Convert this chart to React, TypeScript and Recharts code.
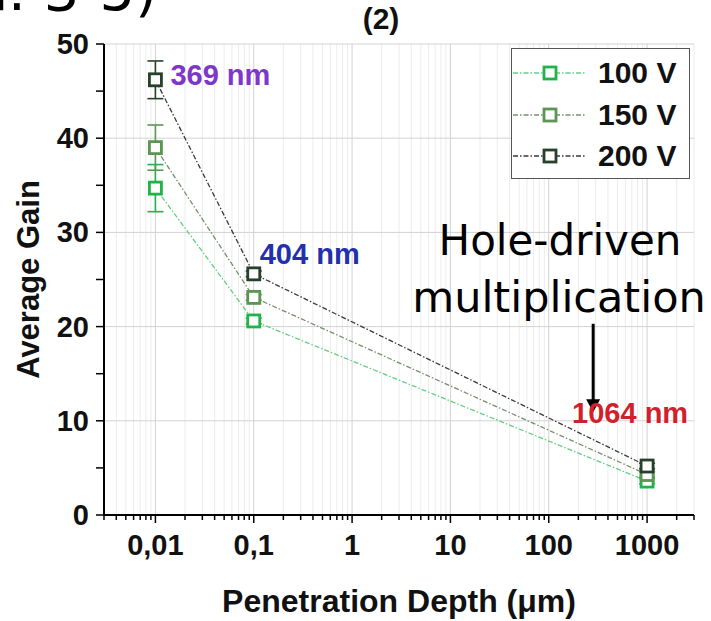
import {
  LineChart,
  Line,
  XAxis,
  YAxis,
  CartesianGrid,
  ErrorBar,
  Legend,
  ReferenceDot,
  ReferenceLine,
} from 'recharts'

// penetration depth (µm) for 369 / 404 / 1064 nm
const DEPTHS = [0.01, 0.1, 1000]

const GAIN_100V = [34.7, 20.6, 3.6]
const ERR_100V = [2.5, 0.3, 0.3]
const GAIN_150V = [39.0, 23.1, 4.3]
const ERR_150V = [2.4, 0.3, 0.3]
const GAIN_200V = [46.2, 25.6, 5.2]
const ERR_200V = [2.0, 0.3, 0.3]

const SERIES_NAMES = ['100 V', '150 V', '200 V']
const X_TICKS = [0.01, 0.1, 1, 10, 100, 1000]
const X_TICK_LABELS = ['0,01', '0,1', '1', '10', '100', '1000']
const Y_TICKS = [0, 5, 10, 15, 20, 25, 30, 35, 40, 45, 50]
const Y_GRID = [0, 10, 20, 30, 40, 50]
const X_DOMAIN = [0.003, 3000]

// wavelength labels, anchored on the 200 V points
const WAVELENGTHS = ['369 nm', '404 nm', '1064 nm']

// minor log ticks (2..9 per decade) inside the domain
const X_MINOR = [0.001, 0.01, 0.1, 1, 10, 100, 1000]
  .flatMap((d) => [2, 3, 4, 5, 6, 7, 8, 9].map((m) => Number((d * m).toPrecision(3))))
  .filter((v) => v >= X_DOMAIN[0] && v <= X_DOMAIN[1])

const rows = (gain: number[], err: number[]) =>
  DEPTHS.map((x, i) => ({ x, y: gain[i], e: err[i] }))

const SERIES = [
  { name: SERIES_NAMES[0], data: rows(GAIN_100V, ERR_100V), line: '#63cf82', mark: '#1fb34a' },
  { name: SERIES_NAMES[1], data: rows(GAIN_150V, ERR_150V), line: '#74906b', mark: '#5b9453' },
  { name: SERIES_NAMES[2], data: rows(GAIN_200V, ERR_200V), line: '#3a3a3a', mark: '#27402a' },
]

const LABEL_STYLE = [
  { color: '#7d38c9', dx: 15, dy: 5 },
  { color: '#2230ad', dx: 6, dy: -10 },
  { color: '#d21f2e', dx: -75, dy: -43 },
]

const ARROW = { x: 283, from: 20.3, to: 10.9 }

const BOLD = '"Liberation Sans", Arial, sans-serif'
const DEJAVU = '"DejaVu Sans", sans-serif'

const squareDot = (color: string) => (p: any) => (
  <rect
    key={`d-${p.index}`}
    x={p.cx - 6}
    y={p.cy - 6}
    width={12}
    height={12}
    fill="#fff"
    stroke={color}
    strokeWidth={2.8}
  />
)

const XTick = (p: any) => {
  const v = p.payload.value
  const i = X_TICKS.indexOf(v)
  const major = i >= 0
  return (
    <g>
      <line x1={p.x} x2={p.x} y1={p.y} y2={p.y + (major ? 8 : 5)} stroke="#000" strokeWidth={1.5} />
      {major && (
        <text x={p.x} y={p.y + 40} textAnchor="middle" fontFamily={BOLD} fontWeight={700} fontSize={29} fill="#111">
          {X_TICK_LABELS[i]}
        </text>
      )}
    </g>
  )
}

const YTick = (p: any) => {
  const v = p.payload.value
  return (
    <g>
      <line x1={p.x - 8} x2={p.x} y1={p.y} y2={p.y} stroke="#000" strokeWidth={1.5} />
      {v % 10 === 0 && (
        <text x={p.x - 15} y={p.y + 10} textAnchor="end" fontFamily={BOLD} fontWeight={700} fontSize={29} fill="#111">
          {v}
        </text>
      )}
    </g>
  )
}

const LegendBox = () => (
  <div style={s.legend}>
    {SERIES.map((sr, i) => (
      <div key={sr.name} style={{ ...s.legendRow, top: 9 + i * 41.5 }}>
        <svg width={86} height={30} style={{ display: 'block' }}>
          <line x1={1} x2={74} y1={15} y2={15} stroke={sr.line} strokeWidth={1.3} strokeDasharray="5 2 1.5 2" />
          <rect x={32} y={9} width={12} height={12} fill="#fff" stroke={sr.mark} strokeWidth={2.8} />
        </svg>
        <span style={s.legendText}>{sr.name}</span>
      </div>
    ))}
  </div>
)

export default function App() {
  const top = SERIES[2].data
  return (
    <div style={s.wrap}>
      <LineChart width={711} height={621} margin={{ top: 44, right: 17, bottom: 0, left: 0 }}>
        <CartesianGrid horizontal={false} verticalValues={X_MINOR} stroke="#ececec" strokeWidth={1} />
        <CartesianGrid verticalValues={X_TICKS} horizontalValues={Y_GRID} stroke="#d2d2d2" strokeWidth={1} />
        <XAxis
          dataKey="x"
          type="number"
          scale="log"
          domain={X_DOMAIN}
          ticks={[...X_TICKS, ...X_MINOR]}
          interval={0}
          allowDataOverflow
          height={106}
          tickSize={0}
          tickMargin={0}
          tickLine={false}
          tick={<XTick />}
          axisLine={{ stroke: '#000', strokeWidth: 2 }}
          label={{
            content: (lp: any) => (
              <text
                x={lp.viewBox.x + lp.viewBox.width / 2}
                y={lp.viewBox.y + 97}
                textAnchor="middle"
                fontFamily={BOLD}
                fontWeight={700}
                fontSize={32}
                fill="#111"
              >
                Penetration Depth (μm)
              </text>
            ),
          }}
        />
        <YAxis
          type="number"
          domain={[0, 50]}
          ticks={Y_TICKS}
          interval={0}
          width={104}
          tickSize={0}
          tickMargin={0}
          tickLine={false}
          tick={<YTick />}
          axisLine={{ stroke: '#000', strokeWidth: 2 }}
          label={{
            content: (lp: any) => {
              const cy = lp.viewBox.y + lp.viewBox.height / 2
              return (
                <text
                  x={39}
                  y={cy}
                  transform={`rotate(-90 39 ${cy})`}
                  textAnchor="middle"
                  fontFamily={BOLD}
                  fontWeight={700}
                  fontSize={31}
                  fill="#111"
                >
                  Average Gain
                </text>
              )
            },
          }}
        />
        {SERIES.map((sr) => (
          <Line
            key={sr.name}
            name={sr.name}
            data={sr.data}
            dataKey="y"
            type="linear"
            stroke={sr.line}
            strokeWidth={1.3}
            strokeDasharray="5 2 1.5 2"
            dot={squareDot(sr.mark)}
            activeDot={false}
            isAnimationActive={false}
          >
            <ErrorBar dataKey="e" width={8} strokeWidth={1.6} stroke={sr.mark} direction="y" />
          </Line>
        ))}
        {WAVELENGTHS.map((w, i) => (
          <ReferenceDot
            key={w}
            x={top[i].x}
            y={top[i].y}
            r={0}
            ifOverflow="visible"
            shape={(p: any) => (
              <text
                x={p.cx + LABEL_STYLE[i].dx}
                y={p.cy + LABEL_STYLE[i].dy}
                fontFamily={BOLD}
                fontWeight={700}
                fontSize={29}
                fill={LABEL_STYLE[i].color}
              >
                {w}
              </text>
            )}
          />
        ))}
        <ReferenceLine
          segment={[
            { x: ARROW.x, y: ARROW.from },
            { x: ARROW.x, y: ARROW.to },
          ]}
          ifOverflow="visible"
          shape={(p: any) => (
            <g>
              <line x1={p.x1} x2={p.x2} y1={p.y1} y2={p.y2 - 10} stroke="#000" strokeWidth={3} />
              <polygon points={`${p.x2 - 7},${p.y2 - 13} ${p.x2 + 7},${p.y2 - 13} ${p.x2},${p.y2}`} fill="#000" />
            </g>
          )}
        />
        <Legend
          layout="vertical"
          align="center"
          verticalAlign="middle"
          wrapperStyle={{ position: 'absolute', top: 48, left: 511, width: 179, height: 131 }}
          content={() => <LegendBox />}
        />
      </LineChart>

      {/* free annotations on top of the chart */}
      <svg width={711} height={621} style={s.overlay}>
        <text x={157} y={10} textAnchor="end" fontFamily={DEJAVU} fontSize={56} fill="#000">
          n. 3-5)
        </text>
        <text x={381} y={29} textAnchor="middle" fontFamily={BOLD} fontWeight={700} fontSize={30} fill="#111">
          (2)
        </text>
        <text x={560} y={255} textAnchor="middle" fontFamily={DEJAVU} fontSize={42} fill="#000">
          Hole-driven
        </text>
        <text x={559} y={312} textAnchor="middle" fontFamily={DEJAVU} fontSize={43} fill="#000">
          multiplication
        </text>
      </svg>
    </div>
  )
}

const s = {
  wrap: {
    position: 'absolute' as const,
    left: 0,
    top: 0,
    width: 711,
    height: 621,
    background: '#fff',
    overflow: 'hidden',
  } as React.CSSProperties,

  overlay: {
    position: 'absolute' as const,
    left: 0,
    top: 0,
    pointerEvents: 'none' as const,
  } as React.CSSProperties,

  legend: {
    position: 'relative' as const,
    width: 179,
    height: 131,
    boxSizing: 'border-box' as const,
    border: '1.5px solid #555',
    background: '#fff',
  } as React.CSSProperties,

  legendRow: {
    position: 'absolute' as const,
    left: 0,
    display: 'flex',
    alignItems: 'center',
    height: 30,
  } as React.CSSProperties,

  legendText: {
    fontFamily: BOLD,
    fontWeight: 700,
    fontSize: 30,
    color: '#111',
    lineHeight: '30px',
    whiteSpace: 'nowrap' as const,
  } as React.CSSProperties,
}
